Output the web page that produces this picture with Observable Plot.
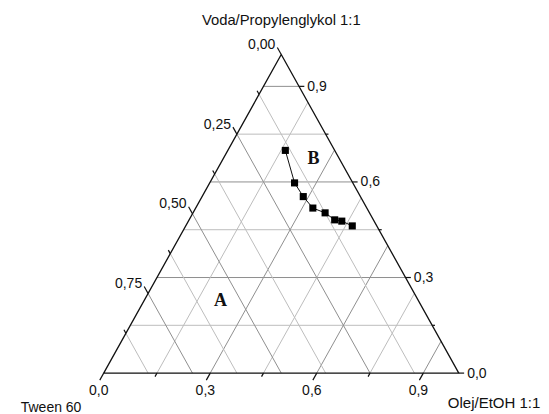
<!DOCTYPE html>
<html>
<head>
<meta charset="utf-8">
<script src="https://cdn.jsdelivr.net/npm/d3@7"></script>
<script src="https://cdn.jsdelivr.net/npm/@observablehq/plot@0.6"></script>
<style>
  html, body { margin: 0; padding: 0; background: #fff; }
</style>
</head>
<body>
<div id="chart"></div>
<script>
// ---- data (ternary fractions) ----
const tween = [0.139, 0.164, 0.161, 0.152, 0.125, 0.109, 0.091, 0.069];   // Tween 60
const olej  = [0.162, 0.239, 0.285, 0.330, 0.372, 0.410, 0.432, 0.469];   // Olej/EtOH 1:1
const voda  = [0.699, 0.597, 0.554, 0.518, 0.503, 0.481, 0.477, 0.462];   // Voda/Propylenglykol 1:1

// ---- axes ----
const tweenMajor = [0, 0.25, 0.5, 0.75];
const tweenLabels = ["0,00", "0,25", "0,50", "0,75"];
const tweenMinor = [0.125, 0.375, 0.625, 0.875];
const tweenGrid = [0.125, 0.25, 0.375, 0.5, 0.625, 0.75, 0.875];

const olejMajor = [0, 0.3, 0.6, 0.9];
const olejLabels = ["0,0", "0,3", "0,6", "0,9"];
const olejMinor = [0.15, 0.45, 0.75];
const olejGrid = [0.15, 0.3, 0.45, 0.6, 0.75, 0.9];

const vodaMajor = [0, 0.3, 0.6, 0.9];
const vodaLabels = ["0,0", "0,3", "0,6", "0,9"];
const vodaMinor = [0.15, 0.45, 0.75];
const vodaGrid = [0.15, 0.3, 0.45, 0.6, 0.75, 0.9];

const axisTitles = ["Voda/Propylenglykol 1:1", "Tween 60", "Olej/EtOH 1:1"];
const regions = [
  {label: "A", tween: 0.557, olej: 0.215, voda: 0.228},
  {label: "B", tween: 0.072, olej: 0.254, voda: 0.674}
];

// ---- helpers ----
const X = (a, b, c) => b + c / 2;
const Y = (a, b, c) => c;
const pts = tween.map((a, i) => ({x: X(a, olej[i], voda[i]), y: Y(a, olej[i], voda[i])}));
const gridStroke = (v, major) => (major.some(m => Math.abs(m - v) < 1e-9) ? "#8f8f8f" : "#bdbdbd");

// grid lines
const gridLines = [];
vodaGrid.forEach(c => gridLines.push({x1: c / 2, y1: c, x2: 1 - c / 2, y2: c, s: gridStroke(c, vodaMajor)}));
olejGrid.forEach(b => gridLines.push({x1: b, y1: 0, x2: b + (1 - b) / 2, y2: 1 - b, s: gridStroke(b, olejMajor)}));
tweenGrid.forEach(a => gridLines.push({x1: (1 - a) / 2, y1: 1 - a, x2: 1 - a, y2: 0, s: gridStroke(a, tweenMajor)}));

// ticks (lengths in data units)
const dMajL = 0.022, dMinL = 0.011;   // left / bottom (diagonal)
const dMajR = 0.015, dMinR = 0.008;   // right (horizontal)
const ticks = [];
const leftTick = (a, d) => ({x1: (1 - a) / 2, y1: 1 - a, x2: (1 - a) / 2 - d / 2, y2: 1 - a + d});
const botTick = (b, d) => ({x1: b, y1: 0, x2: b - d / 2, y2: -d});
const rightTick = (c, d) => ({x1: 1 - c / 2, y1: c, x2: 1 - c / 2 + d, y2: c});
tweenMajor.forEach(a => ticks.push(leftTick(a, dMajL)));
tweenMinor.forEach(a => ticks.push(leftTick(a, dMinL)));
olejMajor.forEach(b => ticks.push(botTick(b, dMajL)));
olejMinor.forEach(b => ticks.push(botTick(b, dMinL)));
vodaMajor.forEach(c => ticks.push(rightTick(c, dMajR)));
vodaMinor.forEach(c => ticks.push(rightTick(c, dMinR)));

const leftLab = tweenMajor.map((a, i) => ({...leftTick(a, dMajL), t: tweenLabels[i]}));
const botLab = olejMajor.map((b, i) => ({...botTick(b, dMajL), t: olejLabels[i]}));
const rightLab = vodaMajor.map((c, i) => ({...rightTick(c, dMajR), t: vodaLabels[i]}));

const frame = [{x: 0, y: 0}, {x: 1, y: 0}, {x: 0.5, y: 1}, {x: 0, y: 0}];

const font = "'Liberation Sans', Arial, sans-serif";

const chart = Plot.plot({
  width: 549,
  height: 414,
  margin: 0,
  style: {fontFamily: font, background: "#fff", overflow: "visible"},
  x: {domain: [0, 1], range: [103.2, 458.3], axis: null},
  y: {domain: [0, 1], range: [372.6, 54], axis: null},
  marks: [
    Plot.link(gridLines, {x1: "x1", y1: "y1", x2: "x2", y2: "y2", stroke: "s", strokeWidth: 1}),
    Plot.line(frame, {x: "x", y: "y", stroke: "#111", strokeWidth: 1.3}),
    Plot.link(ticks, {x1: "x1", y1: "y1", x2: "x2", y2: "y2", stroke: "#111", strokeWidth: 1.2}),
    Plot.text(leftLab, {x: "x2", y: "y2", text: "t", textAnchor: "end", dx: -2, dy: -3, fontSize: 14, fill: "#111"}),
    Plot.text(botLab, {x: "x2", y: "y2", text: "t", textAnchor: "middle", dx: -1, dy: 10, fontSize: 14, fill: "#111"}),
    Plot.text(rightLab, {x: "x2", y: "y2", text: "t", textAnchor: "start", dx: 3, fontSize: 14, fill: "#111"}),
    Plot.text([axisTitles[0]], {x: () => 0.5, y: () => 1, dy: -34, textAnchor: "middle", fontSize: 14.8, fill: "#111"}),
    Plot.text([axisTitles[1]], {x: () => 0, y: () => 0, dx: -83, dy: 34, textAnchor: "start", fontSize: 14, fill: "#111"}),
    Plot.text([axisTitles[2]], {x: () => 1, y: () => 0, dx: -11, dy: 30, textAnchor: "start", fontSize: 15, fill: "#111"}),
    Plot.text(regions, {x: d => X(d.tween, d.olej, d.voda), y: d => Y(d.tween, d.olej, d.voda), text: "label",
      fontFamily: "'Liberation Serif', 'Times New Roman', serif", fontWeight: "bold", fontSize: 18, fill: "#111"}),
    Plot.line(pts, {x: "x", y: "y", stroke: "#111", strokeWidth: 1}),
    Plot.dot(pts, {x: "x", y: "y", symbol: "square", r: 4, fill: "#000", stroke: "none"})
  ]
});
document.getElementById("chart").appendChild(chart);
</script>
</body>
</html>
